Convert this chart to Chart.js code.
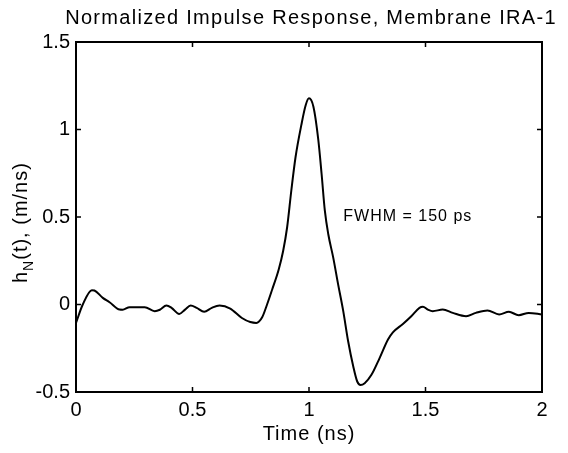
<!DOCTYPE html>
<html>
<head>
<meta charset="utf-8">
<title>Normalized Impulse Response</title>
<script src="https://cdn.jsdelivr.net/npm/chart.js@4/dist/chart.umd.min.js"></script>
<style>
    html, body { margin: 0; padding: 0; background: #ffffff; }
    #wrap { width: 568px; height: 453px; }
</style>
</head>
<body>
<div id="wrap"><canvas id="impulseChart" width="568" height="453"></canvas></div>
<script>
// Values
const timeNs = [0, 0.029, 0.068, 0.079, 0.115, 0.144, 0.187, 0.2, 0.23, 0.295, 0.338, 0.36, 0.388, 0.41, 0.443,
    0.468, 0.492, 0.518, 0.55, 0.583, 0.616, 0.662, 0.712, 0.748, 0.774, 0.799, 0.82, 0.842, 0.87, 0.889,
    0.906, 0.924, 0.942, 0.967, 0.986, 1.0, 1.019, 1.04, 1.054, 1.068, 1.083, 1.104, 1.125, 1.147, 1.168,
    1.19, 1.207, 1.221, 1.239, 1.268, 1.303, 1.339, 1.36, 1.403, 1.439, 1.474, 1.489, 1.51, 1.531, 1.574,
    1.617, 1.674, 1.716, 1.766, 1.816, 1.858, 1.9, 1.943, 2.0];
const response = [-0.105, 0, 0.082, 0.08, 0.038, 0.013, -0.029, -0.03, -0.015, -0.015, -0.038, -0.03, -0.006, -0.019, -0.054,
    -0.029, -0.006, -0.019, -0.042, -0.019, -0.006, -0.023, -0.077, -0.1, -0.105, -0.073, 0, 0.086, 0.2, 0.306,
    0.44, 0.65, 0.84, 1.025, 1.14, 1.178, 1.13, 0.94, 0.747, 0.536, 0.40, 0.268, 0.115, -0.038, -0.21,
    -0.354, -0.44, -0.46, -0.45, -0.402, -0.306, -0.2, -0.159, -0.111, -0.067, -0.019, -0.013, -0.029, -0.038, -0.029,
    -0.048, -0.067, -0.048, -0.034, -0.057, -0.042, -0.061, -0.048, -0.057];
const xTicks = [0, 0.5, 1, 1.5, 2];
const yTicks = [-0.5, 0, 0.5, 1, 1.5];

const FONT = '"Liberation Sans", Arial, Helvetica, sans-serif';

// box + inward tick marks, like the matlab axes
const frameTicks = {
    id: 'frameTicks',
    afterDraw(chart) {
        const ctx = chart.ctx;
        const a = chart.chartArea;
        const xs = chart.scales.x, ys = chart.scales.y;
        const len = 5;
        ctx.save();
        ctx.strokeStyle = '#000';
        ctx.lineWidth = 1.5;
        ctx.beginPath();
        xTicks.forEach(v => {
            const px = xs.getPixelForValue(v);
            ctx.moveTo(px, a.bottom); ctx.lineTo(px, a.bottom - len);
            ctx.moveTo(px, a.top); ctx.lineTo(px, a.top + len);
        });
        yTicks.forEach(v => {
            const py = ys.getPixelForValue(v);
            ctx.moveTo(a.left, py); ctx.lineTo(a.left + len, py);
            ctx.moveTo(a.right, py); ctx.lineTo(a.right - len, py);
        });
        ctx.stroke();
        ctx.lineWidth = 2;
        ctx.strokeRect(a.left, a.top, a.right - a.left, a.bottom - a.top);
        ctx.restore();
    }
};

// titles (matlab-ish wide spacing), y label with subscript N, FWHM note
const labels = {
    id: 'labels',
    afterDraw(chart) {
        const ctx = chart.ctx;
        const a = chart.chartArea;
        const xs = chart.scales.x, ys = chart.scales.y;
        const midX = (a.left + a.right) / 2;

        ctx.save();
        ctx.fillStyle = '#000';
        ctx.textAlign = 'center';
        ctx.textBaseline = 'alphabetic';
        ctx.font = '20px ' + FONT;
        ctx.letterSpacing = '1.3px';
        ctx.fillText('Normalized Impulse Response, Membrane IRA-1', midX + 2, 24);
        ctx.letterSpacing = '1px';
        ctx.fillText('Time (ns)', midX, 440);
        ctx.restore();

        // y axis title
        ctx.save();
        ctx.fillStyle = '#000';
        ctx.letterSpacing = '1px';
        ctx.translate(27, 283);
        ctx.rotate(-Math.PI / 2);
        ctx.textAlign = 'left';
        ctx.textBaseline = 'alphabetic';
        let x = 0;
        ctx.font = '20px ' + FONT;
        ctx.fillText('h', x, 0);
        x += ctx.measureText('h').width;
        ctx.font = '14px ' + FONT;
        ctx.fillText('N', x, 6);
        x += ctx.measureText('N').width;
        ctx.font = '20px ' + FONT;
        ctx.fillText('(t), (m/ns)', x, 0);
        ctx.restore();

        // annotation
        ctx.save();
        ctx.fillStyle = '#000';
        ctx.letterSpacing = '1px';
        ctx.font = '16px ' + FONT;
        ctx.textAlign = 'left';
        ctx.textBaseline = 'alphabetic';
        ctx.fillText('FWHM = 150 ps', xs.getPixelForValue(1.147), ys.getPixelForValue(0.475));
        ctx.restore();
    }
};

const ctx = document.getElementById('impulseChart').getContext('2d');
new Chart(ctx, {
    type: 'line',
    data: {
        datasets: [{
            data: timeNs.map((t, i) => ({ x: t, y: response[i] })),
            borderColor: '#000',
            borderWidth: 2,
            pointRadius: 0,
            fill: false,
            cubicInterpolationMode: 'monotone'
        }]
    },
    options: {
        responsive: false,
        animation: false,
        layout: { padding: { left: 0, right: 26, top: 42, bottom: 0 } },
        plugins: {
            legend: { display: false },
            tooltip: { enabled: false },
            title: { display: false }
        },
        scales: {
            x: {
                type: 'linear',
                min: 0,
                max: 2,
                afterFit(scale) { scale.height = 61; },
                afterBuildTicks(scale) { scale.ticks = xTicks.map(v => ({ value: v })); },
                grid: { display: false, drawTicks: false },
                border: { display: false },
                ticks: {
                    color: '#000',
                    padding: 6,
                    font: { family: FONT, size: 20 },
                    maxRotation: 0,
                    callback: v => String(v)
                }
            },
            y: {
                min: -0.5,
                max: 1.5,
                afterFit(scale) { scale.width = 76; },
                afterBuildTicks(scale) { scale.ticks = yTicks.map(v => ({ value: v })); },
                grid: { display: false, drawTicks: false },
                border: { display: false },
                ticks: {
                    color: '#000',
                    padding: 6,
                    font: { family: FONT, size: 20 },
                    callback: v => String(v)
                }
            }
        }
    },
    plugins: [frameTicks, labels]
});
</script>
</body>
</html>
